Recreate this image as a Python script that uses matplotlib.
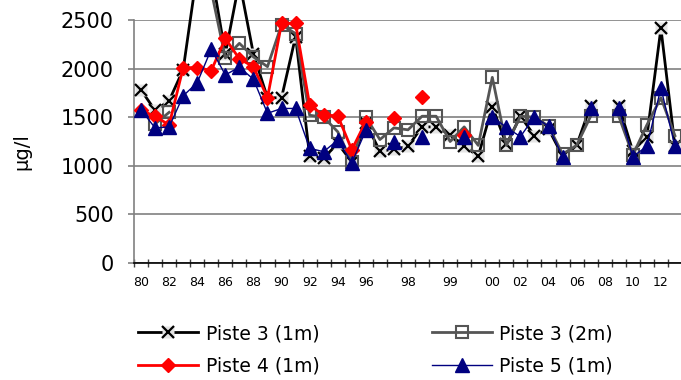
import numpy as np
import matplotlib
matplotlib.use("Agg")
import matplotlib.pyplot as plt
from matplotlib.legend_handler import HandlerTuple

nan = np.nan

# Category labels (39 categories, only some labelled)
cat_labels = ["80", "", "82", "", "84", "", "86", "", "88", "", "90", "", "92", "", "94", "",
              "96", "", "", "98", "", "", "99", "", "", "00", "", "02", "", "04", "", "06", "",
              "08", "", "10", "", "12", ""]

piste3_1m = [1780, 1570, 1670, 1990, 3000, 3000, 2150, 2900, 2150, 1700, 1700, 2330, 1100,
             1080, 1230, 1040, 1440, 1150, 1170, 1200, 1400, 1400, 1320, 1200, 1100, 1610,
             1220, 1510, 1310, 1380, 1100, 1210, 1620, nan, 1620, 1150, 1300, 2415, 1200]

piste3_2m = [nan, 1430, 1550, nan, nan, 2800, 2110, 2260, 2120, 2020, 2450, 2360, 1520,
             1500, 1350, 1040, 1500, 1270, 1390, 1370, 1510, 1510, 1250, 1400, 1210, 1910,
             1210, 1510, 1500, 1410, 1120, 1210, 1510, nan, 1510, 1110, 1420, 1700, 1310]

piste4_1m = [1570, 1510, 1420, 2010, 2010, 1980, 2310, 2100, 2020, 1700, 2465, 2465, 1625,
             1520, 1515, 1165, 1455, nan, 1490, nan, 1705, nan, nan, 1315, nan, nan,
             nan, nan, nan, nan, nan, nan, nan, nan, nan, nan, nan, nan, nan]

piste5_1m = [1575, 1390, 1400, 1720, 1855, 2200, 1935, 2015, 1890, 1540, 1590, 1590, 1180,
             1145, 1265, 1030, 1365, nan, 1250, nan, 1300, nan, nan, 1300, nan, 1505,
             1395, 1300, 1505, 1405, 1095, nan, 1590, nan, 1590, 1095, 1200, 1800, 1200]

series_names = ["Piste 3 (1m)", "Piste 3 (2m)", "Piste 4 (1m)", "Piste 5 (1m)"]
y_ticks = [0, 500, 1000, 1500, 2000, 2500]

plt.rcParams['font.family'] = ['DejaVu Sans']

fig = plt.figure(figsize=(6.81, 3.80), dpi=100)
ax = fig.add_axes([134 / 681, 117 / 380, 548 / 681, 243 / 380])

x = np.arange(len(cat_labels))

# Piste 3 (1m): black line, x markers on light grey boxes
l1, = ax.plot(x, piste3_1m, color='black', lw=2, marker='s', ms=8.5,
              mfc='#e4e4e4', mec='none', clip_on=False, zorder=3)
m1, = ax.plot(x, piste3_1m, ls='none', marker='x', ms=8, mew=1.6,
              color='black', clip_on=False, zorder=3)
# Piste 3 (2m): dark grey, open squares
l2, = ax.plot(x, piste3_2m, color='#555555', lw=2, marker='s', ms=9,
              mfc='none', mec='#555555', mew=1.5, clip_on=False, zorder=4)
# Piste 4 (1m): red diamonds
l3, = ax.plot(x, piste4_1m, color='#ff0000', lw=2, marker='D', ms=7.5,
              mfc='#ff0000', mec='#ff0000', clip_on=False, zorder=5)
# Piste 5 (1m): navy triangles, thin line
l4, = ax.plot(x, piste5_1m, color='#000080', lw=1, marker='^', ms=10,
              mfc='#000080', mec='#000080', clip_on=False, zorder=6)

ax.set_xlim(-0.5, len(cat_labels) - 0.5)
ax.set_ylim(0, 2500)
ax.set_yticks(y_ticks)
ax.set_yticklabels([str(v) for v in y_ticks], fontsize=15)
ax.yaxis.grid(True, color='#808080', lw=1.2)
ax.set_axisbelow(True)
ax.tick_params(axis='y', direction='out', length=4.5, width=1.2, color='#808080', pad=10)

lab_pos = [i for i, s in enumerate(cat_labels) if s]
ax.set_xticks(lab_pos)
ax.set_xticklabels([cat_labels[i] for i in lab_pos], fontsize=9)
ax.set_xticks(np.arange(-0.5, len(cat_labels), 1.0), minor=True)
ax.tick_params(axis='x', which='major', length=0, pad=9)
ax.tick_params(axis='x', which='minor', direction='inout', length=6, width=1, color='#404040')

for s in ['top', 'right']:
    ax.spines[s].set_visible(False)
ax.spines['left'].set_color('#808080')
ax.spines['left'].set_linewidth(1.2)
ax.spines['bottom'].set_color('black')
ax.spines['bottom'].set_linewidth(1.2)

fig.text(22 / 681, 1 - 152 / 380, "µg/l", rotation=90, fontsize=14,
         ha='center', va='center')

handles = [(l1, m1), l3, l2, l4]
labels = [series_names[0], series_names[2], series_names[1], series_names[3]]
fig.legend(handles, labels, handler_map={tuple: HandlerTuple(ndivide=1)},
           loc='upper left', bbox_to_anchor=(138 / 681, 1 - 324 / 380),
           ncol=2, frameon=False, fontsize=13.5, handlelength=3.2,
           handletextpad=0.4, columnspacing=6.0, labelspacing=0.72,
           borderpad=0, borderaxespad=0, numpoints=1)

fig.savefig("out.png", dpi=100)
